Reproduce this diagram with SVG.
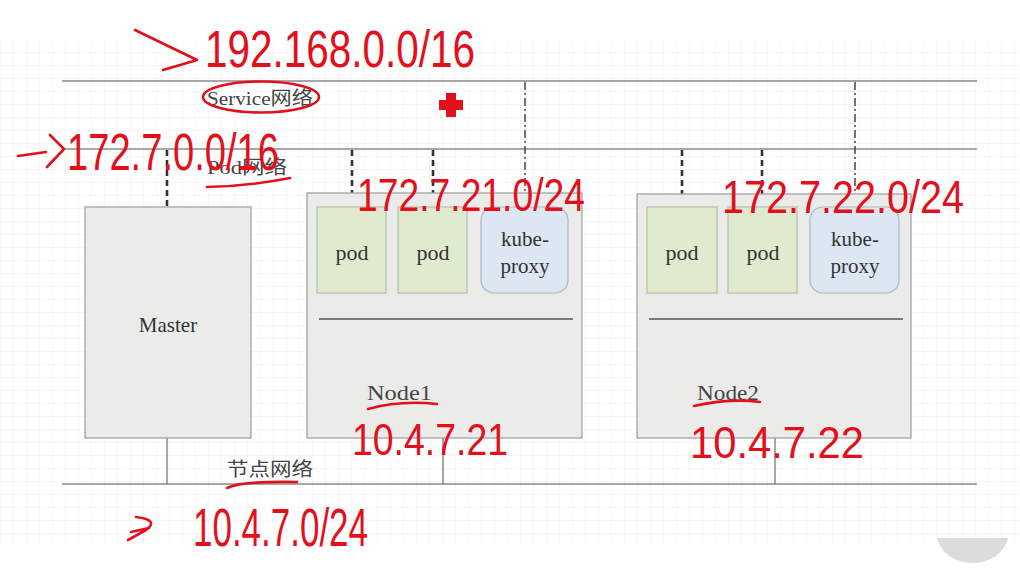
<svg xmlns="http://www.w3.org/2000/svg" width="1020" height="588" viewBox="0 0 1020 588">
<defs>
<pattern id="grid" width="13" height="13" patternUnits="userSpaceOnUse">
<path d="M13,0 L0,0 L0,13" fill="none" stroke="#eef1ee" stroke-width="1"/>
</pattern>
<style>
.net{stroke:#8a8a8a;stroke-width:1.6;fill:none}
.pl{stroke:#333;stroke-width:2.6;stroke-dasharray:6,4;fill:none}
.sl{stroke:#444;stroke-width:1.5;stroke-dasharray:8,3,2,3;fill:none}
.sol{stroke:#777;stroke-width:1.3;fill:none}
.box{fill:#ebecea;stroke:#a3a3a3;stroke-width:1.3}
.pod{fill:#e0eacf;stroke:#b4bea6;stroke-width:1.2}
.kp{fill:#dce7f2;stroke:#a9b7c6;stroke-width:1.2}
.t{font-family:"Liberation Serif","Noto Sans CJK SC",serif;fill:#333;text-anchor:middle}
.lb{font-family:"Liberation Serif","Noto Sans CJK SC",serif;fill:#444}
.r{font-family:"Liberation Sans",sans-serif;fill:#e3101c}
.rs{stroke:#e3101c;stroke-width:2.6;fill:none;stroke-linecap:round;stroke-linejoin:round}
</style>
</defs>
<rect width="1020" height="588" fill="#ffffff"/>
<rect x="0" y="40" width="1020" height="505" fill="url(#grid)"/>

<g id="networks">
<line class="net" x1="62" y1="81" x2="977" y2="81"/>
<line class="net" x1="62" y1="149" x2="977" y2="149"/>
<line class="net" x1="62" y1="484" x2="977" y2="484"/>
<text class="lb" x="207" y="105" font-size="19" textLength="106" lengthAdjust="spacingAndGlyphs">Service网络</text>
<text class="lb" x="207" y="174" font-size="19" textLength="80" lengthAdjust="spacingAndGlyphs">Pod网络</text>
<text class="lb" x="227" y="476" font-size="19" textLength="86" lengthAdjust="spacingAndGlyphs">节点网络</text>
</g>

<g id="connectors">
<line class="pl" x1="167" y1="150" x2="167" y2="207"/>
<line class="sol" x1="167" y1="438" x2="167" y2="484"/>
<line class="pl" x1="352" y1="150" x2="352" y2="207"/>
<line class="pl" x1="433" y1="150" x2="433" y2="207"/>
<line class="sl" x1="525" y1="82" x2="525" y2="207"/>
<line class="sl" x1="352" y1="293" x2="352" y2="319"/>
<line class="sl" x1="433" y1="293" x2="433" y2="319"/>
<line class="sl" x1="527" y1="293" x2="527" y2="319"/>
<line class="sol" x1="443" y1="438" x2="443" y2="484"/>
<line class="pl" x1="682" y1="150" x2="682" y2="207"/>
<line class="pl" x1="762" y1="150" x2="762" y2="207"/>
<line class="sl" x1="855" y1="82" x2="855" y2="207"/>
<line class="sl" x1="682" y1="293" x2="682" y2="319"/>
<line class="sl" x1="763" y1="293" x2="763" y2="319"/>
<line class="sl" x1="857" y1="293" x2="857" y2="319"/>
<line class="sol" x1="775" y1="438" x2="775" y2="484"/>
</g>

<g id="master">
<rect class="box" x="85" y="207" width="166" height="231"/>
<text class="t" x="168" y="332" font-size="21">Master</text>
</g>

<g id="node1">
<rect class="box" x="307" y="193" width="275" height="245"/>
<line class="sol" x1="319" y1="319" x2="573" y2="319" style="stroke:#555"/>
<text class="lb" x="367" y="400" font-size="21" textLength="65" lengthAdjust="spacingAndGlyphs">Node1</text>
</g>
<g id="node1-pod1">
<rect class="pod" x="317" y="207" width="69" height="86"/>
<text class="t" x="352" y="260" font-size="22">pod</text>
</g>
<g id="node1-pod2">
<rect class="pod" x="398" y="207" width="69" height="86"/>
<text class="t" x="433" y="260" font-size="22">pod</text>
</g>
<g id="node1-kube-proxy">
<rect class="kp" x="481" y="207" width="87" height="86" rx="13"/>
<text class="t" x="525" y="246" font-size="21">kube-</text>
<text class="t" x="525" y="273" font-size="21">proxy</text>
</g>

<g id="node2">
<rect class="box" x="637" y="194" width="274" height="244"/>
<line class="sol" x1="649" y1="319" x2="903" y2="319" style="stroke:#555"/>
<text class="lb" x="697" y="400" font-size="21" textLength="62" lengthAdjust="spacingAndGlyphs">Node2</text>
</g>
<g id="node2-pod1">
<rect class="pod" x="647" y="207" width="70" height="86"/>
<text class="t" x="682" y="260" font-size="22">pod</text>
</g>
<g id="node2-pod2">
<rect class="pod" x="728" y="207" width="69" height="86"/>
<text class="t" x="763" y="260" font-size="22">pod</text>
</g>
<g id="node2-kube-proxy">
<rect class="kp" x="810" y="207" width="89" height="86" rx="13"/>
<text class="t" x="855" y="246" font-size="21">kube-</text>
<text class="t" x="855" y="273" font-size="21">proxy</text>
</g>

<g id="annotations">
<path class="rs" d="M135,30 L197,60 L163,70"/>
<text class="r" x="205" y="67" font-size="52" textLength="270" lengthAdjust="spacingAndGlyphs">192.168.0.0/16</text>
<ellipse class="rs" cx="261" cy="97" rx="58" ry="15.5"/>
<path d="M446,93 h10 v7 h7 v10 h-7 v7 h-10 v-7 h-7 v-10 h7 z" fill="#e3101c"/>
<path class="rs" d="M18,156 L46,152 M50,135 L64,149 L47,167"/>
<text class="r" x="67" y="170" font-size="52" textLength="212" lengthAdjust="spacingAndGlyphs">172.7.0.0/16</text>
<path class="rs" d="M207,187 Q250,186 290,178"/>
<text class="r" x="357" y="211" font-size="46" textLength="228" lengthAdjust="spacingAndGlyphs">172.7.21.0/24</text>
<text class="r" x="722" y="213" font-size="46" textLength="242" lengthAdjust="spacingAndGlyphs">172.7.22.0/24</text>
<path class="rs" d="M368,409 Q400,400 437,404"/>
<text class="r" x="352" y="455" font-size="44" textLength="156" lengthAdjust="spacingAndGlyphs">10.4.7.21</text>
<path class="rs" d="M694,406 Q730,398 760,402"/>
<text class="r" x="690" y="458" font-size="44" textLength="174" lengthAdjust="spacingAndGlyphs">10.4.7.22</text>
<path class="rs" d="M227,488 Q240,481 297,482"/>
<path class="rs" d="M136,517 Q160,520 146,530 L128,540 M131,532 L149,528"/>
<text class="r" x="193" y="546" font-size="53" textLength="175" lengthAdjust="spacingAndGlyphs">10.4.7.0/24</text>
</g>
<path d="M937,538 A36,30 0 0 0 1008,538 Z" fill="#dcdcdc"/>
</svg>
